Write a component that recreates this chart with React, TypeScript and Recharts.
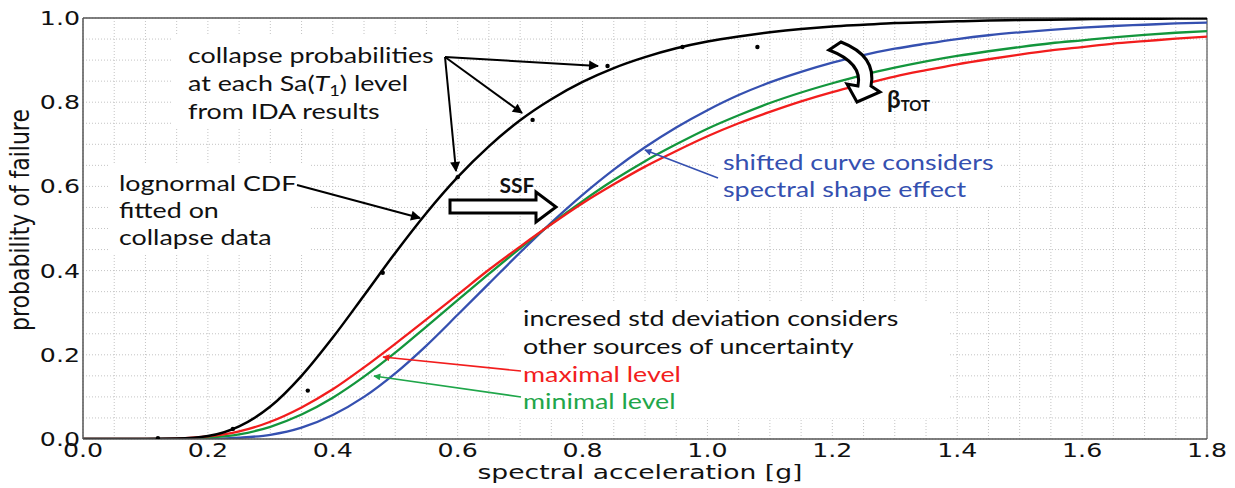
import React from "react";
import {
  ComposedChart,
  Line,
  Scatter,
  XAxis,
  YAxis,
  CartesianGrid,
  ReferenceLine,
} from "recharts";

// spectral acceleration Sa(T1) [g]
const sa = [
  0, 0.05, 0.1, 0.15, 0.2, 0.25, 0.3, 0.35, 0.4, 0.45, 0.5, 0.55, 0.6, 0.65,
  0.7, 0.75, 0.8, 0.85, 0.9, 0.95, 1.0, 1.05, 1.1, 1.15, 1.2, 1.25, 1.3, 1.35,
  1.4, 1.45, 1.5, 1.55, 1.6, 1.65, 1.7, 1.75, 1.8,
];

// lognormal CDF fitted on collapse data (black)
const lognormalFit = [
  0, 0, 0, 0.001, 0.007, 0.03, 0.077, 0.15, 0.241, 0.341, 0.442, 0.537, 0.622,
  0.695, 0.757, 0.807, 0.848, 0.881, 0.907, 0.928, 0.944, 0.956, 0.966, 0.974,
  0.98, 0.984, 0.988, 0.99, 0.992, 0.994, 0.995, 0.996, 0.997, 0.998, 0.998,
  0.999, 0.999,
];

// increased std deviation, maximal level (red)
const maximalLevel = [
  0, 0, 0, 0.001, 0.006, 0.018, 0.041, 0.075, 0.118, 0.17, 0.226, 0.284, 0.343,
  0.402, 0.457, 0.51, 0.56, 0.605, 0.647, 0.684, 0.719, 0.75, 0.777, 0.802,
  0.824, 0.843, 0.861, 0.876, 0.89, 0.902, 0.913, 0.923, 0.931, 0.939, 0.945,
  0.951, 0.956,
];

// increased std deviation, minimal level (green)
const minimalLevel = [
  0, 0, 0, 0, 0.003, 0.011, 0.029, 0.058, 0.098, 0.148, 0.205, 0.267, 0.33,
  0.392, 0.453, 0.511, 0.565, 0.615, 0.66, 0.7, 0.737, 0.769, 0.798, 0.823,
  0.845, 0.865, 0.882, 0.897, 0.91, 0.921, 0.931, 0.94, 0.947, 0.954, 0.96,
  0.965, 0.969,
];

// shifted curve, spectral shape effect (blue)
const shiftedCurve = [
  0, 0, 0, 0, 0, 0.003, 0.01, 0.027, 0.057, 0.1, 0.156, 0.222, 0.295, 0.369,
  0.443, 0.514, 0.58, 0.64, 0.693, 0.74, 0.781, 0.817, 0.847, 0.872, 0.894,
  0.912, 0.927, 0.939, 0.95, 0.959, 0.966, 0.972, 0.977, 0.981, 0.984, 0.987,
  0.989,
];

// collapse probabilities at each Sa(T1) level from IDA
const idaSa = [0.12, 0.24, 0.36, 0.48, 0.6, 0.72, 0.84, 0.96, 1.08];
const idaProb = [0.002, 0.024, 0.115, 0.395, 0.622, 0.758, 0.886, 0.931, 0.931];

const xTicks = [
  0, 0.05, 0.1, 0.15, 0.2, 0.25, 0.3, 0.35, 0.4, 0.45, 0.5, 0.55, 0.6, 0.65,
  0.7, 0.75, 0.8, 0.85, 0.9, 0.95, 1.0, 1.05, 1.1, 1.15, 1.2, 1.25, 1.3, 1.35,
  1.4, 1.45, 1.5, 1.55, 1.6, 1.65, 1.7, 1.75, 1.8,
];
const yTicks = [
  0, 0.05, 0.1, 0.15, 0.2, 0.25, 0.3, 0.35, 0.4, 0.45, 0.5, 0.55, 0.6, 0.65,
  0.7, 0.75, 0.8, 0.85, 0.9, 0.95, 1.0,
];

const curveData = sa.map((x, i) => ({
  x,
  black: lognormalFit[i],
  red: maximalLevel[i],
  green: minimalLevel[i],
  blue: shiftedCurve[i],
}));
const idaData = idaSa.map((x, i) => ({ x, y: idaProb[i] }));

const BLACK = "#000";
const RED = "#f21d1d";
const GREEN = "#13963c";
const GREEN_TEXT = "#1fa64a";
const BLUE = "#3550b0";
const AXIS_FONT = "'DejaVu Sans', sans-serif";
const NOTE_FONT = "Lato, 'Open Sans', sans-serif";

const isMajor = (v: number) => Math.abs(v * 5 - Math.round(v * 5)) < 1e-6;

function XTick(props: any) {
  const { x, y, payload } = props;
  if (!isMajor(payload.value)) return <g />;
  return (
    <text
      transform={`translate(${x},${y + 18}) scale(1.33,1)`}
      textAnchor="middle"
      fontSize={19}
      fontFamily={AXIS_FONT}
      fill="#111"
    >
      {payload.value.toFixed(1)}
    </text>
  );
}

function YTick(props: any) {
  const { x, y, payload } = props;
  if (!isMajor(payload.value)) return <g />;
  return (
    <text
      transform={`translate(${x - 3},${y + 7}) scale(1.33,1)`}
      textAnchor="end"
      fontSize={19}
      fontFamily={AXIS_FONT}
      fill="#111"
    >
      {payload.value.toFixed(1)}
    </text>
  );
}

function Dot(props: any) {
  const { cx, cy } = props;
  return <circle cx={cx} cy={cy} r={2.2} fill={BLACK} />;
}

// annotation text, a bit wider than the font draws it
function Note({ x, y, fill = "#111", children }: any) {
  return (
    <text
      transform={`translate(${x},${y}) scale(1.22,1)`}
      fontFamily={NOTE_FONT}
      fontSize={22}
      fill={fill}
    >
      {children}
    </text>
  );
}

function Notes() {
  return (
    <svg
      width={1235}
      height={488}
      style={{ position: "absolute", left: 0, top: 0, pointerEvents: "none" }}
    >
      <defs>
        {[
          ["k", BLACK],
          ["r", RED],
          ["g", GREEN_TEXT],
          ["b", BLUE],
        ].map(([id, c]) => (
          <marker
            key={id}
            id={`head-${id}`}
            viewBox="0 0 10 10"
            refX="9"
            refY="5"
            markerWidth="8"
            markerHeight="7"
            markerUnits="userSpaceOnUse"
            orient="auto"
          >
            <path d="M0,0 L10,5 L0,10 z" fill={c} />
          </marker>
        ))}
        <marker
          id="head-big"
          viewBox="0 0 10 10"
          refX="9"
          refY="5"
          markerWidth="13"
          markerHeight="10"
          markerUnits="userSpaceOnUse"
          orient="auto"
        >
          <path d="M0,0 L10,5 L0,10 z" fill={BLACK} />
        </marker>
      </defs>

      {/* white boxes behind the notes */}
      <rect x={173} y={34} width={285} height={94} fill="#fff" />
      <rect x={110} y={163} width={200} height={90} fill="#fff" />
      <rect x={715} y={150} width={285} height={55} fill="#fff" />
      <rect x={506} y={302} width={442} height={116} fill="#fff" />

      {/* axis titles */}
      <text
        transform="translate(640,479) scale(1.33,1)"
        textAnchor="middle"
        fontSize={20}
        fontFamily={AXIS_FONT}
        fill="#111"
      >
        spectral acceleration [g]
      </text>
      <text
        transform="translate(29,220) rotate(-90) scale(1,1.2)"
        textAnchor="middle"
        fontSize={22}
        fontFamily={AXIS_FONT}
        fill="#111"
      >
        probability of failure
      </text>

      {/* IDA collapse probabilities */}
      <Note x={188} y={63}>collapse probabilities</Note>
      <Note x={188} y={91}>
        at each Sa(<tspan fontStyle="italic">T</tspan>
        <tspan fontSize={15} dy={5}>1</tspan>
        <tspan dy={-5}>) level</tspan>
      </Note>
      <Note x={188} y={119}>from IDA results</Note>
      <g stroke={BLACK} strokeWidth={2}>
        <line x1={445} y1={57} x2={598} y2={66} markerEnd="url(#head-big)" />
        <line x1={445} y1={57} x2={522} y2={113} markerEnd="url(#head-big)" />
        <line x1={445} y1={57} x2={456} y2={171} markerEnd="url(#head-big)" />
      </g>

      {/* lognormal fit */}
      <Note x={119} y={191}>lognormal CDF</Note>
      <Note x={119} y={218}>fitted on</Note>
      <Note x={119} y={245}>collapse data</Note>
      <line
        x1={297}
        y1={185}
        x2={420}
        y2={218}
        stroke={BLACK}
        strokeWidth={2}
        markerEnd="url(#head-big)"
      />

      {/* SSF shift */}
      <text
        x={517}
        y={193}
        textAnchor="middle"
        fontFamily={NOTE_FONT}
        fontWeight="bold"
        fontSize={21}
        fill="#111"
      >
        SSF
      </text>
      <path
        d="M450,200 L536,200 L536,192 L556,207 L536,222 L536,213 L450,213 Z"
        fill="#fff"
        stroke={BLACK}
        strokeWidth={3}
        strokeLinejoin="miter"
      />

      {/* beta TOT */}
      <path
        d="M829,50 L841,42 Q877,56 871,86 L880,92 L857,102 L847,84 L858,86 Q863,63 829,50 Z"
        fill="#fff"
        stroke={BLACK}
        strokeWidth={3}
      />
      <text x={887} y={108} fontFamily={NOTE_FONT} fontWeight="bold" fill="#111">
        <tspan fontSize={24}>β</tspan>
        <tspan fontSize={15} dy={3}>TOT</tspan>
      </text>

      {/* shifted curve */}
      <Note x={723} y={170} fill={BLUE}>shifted curve considers</Note>
      <Note x={723} y={197} fill={BLUE}>spectral shape effect</Note>
      <line
        x1={718}
        y1={178}
        x2={645}
        y2={150}
        stroke={BLUE}
        strokeWidth={1.6}
        markerEnd="url(#head-b)"
      />

      {/* increased std deviation */}
      <Note x={523} y={326}>incresed std deviation considers</Note>
      <Note x={523} y={354}>other sources of uncertainty</Note>
      <Note x={523} y={382} fill={RED}>maximal level</Note>
      <Note x={523} y={409} fill={GREEN_TEXT}>minimal level</Note>
      <line
        x1={521}
        y1={371}
        x2={383}
        y2={357}
        stroke={RED}
        strokeWidth={1.6}
        markerEnd="url(#head-r)"
      />
      <line
        x1={521}
        y1={397}
        x2={374}
        y2={376}
        stroke={GREEN_TEXT}
        strokeWidth={1.6}
        markerEnd="url(#head-g)"
      />
    </svg>
  );
}

export default function App() {
  return (
    <div
      style={{
        position: "fixed",
        left: 0,
        top: 0,
        width: 1235,
        height: 488,
        background: "#fff",
      }}
    >
      <ComposedChart
        width={1235}
        height={488}
        data={curveData}
        margin={{ top: 18, right: 28, bottom: 0, left: 0 }}
      >
        <CartesianGrid stroke="#c4c4c4" strokeDasharray="1 2" />
        <XAxis
          type="number"
          dataKey="x"
          domain={[0, 1.8]}
          ticks={xTicks}
          interval={0}
          height={49}
          tickLine={false}
          tickSize={0}
          tickMargin={0}
          axisLine={{ stroke: "#555", strokeWidth: 1.5 }}
          tick={XTick}
          allowDataOverflow
        />
        <YAxis
          type="number"
          domain={[0, 1]}
          ticks={yTicks}
          interval={0}
          width={83}
          tickLine={false}
          tickSize={0}
          tickMargin={0}
          axisLine={{ stroke: "#555", strokeWidth: 1.5 }}
          tick={YTick}
          allowDataOverflow
        />
        <ReferenceLine y={1} stroke="#555" strokeWidth={1.5} />
        <ReferenceLine x={1.8} stroke="#777" strokeWidth={1.5} />
        <Line
          type="monotone"
          dataKey="blue"
          stroke={BLUE}
          strokeWidth={2.3}
          dot={false}
          isAnimationActive={false}
        />
        <Line
          type="monotone"
          dataKey="green"
          stroke={GREEN}
          strokeWidth={2.3}
          dot={false}
          isAnimationActive={false}
        />
        <Line
          type="monotone"
          dataKey="red"
          stroke={RED}
          strokeWidth={2.3}
          dot={false}
          isAnimationActive={false}
        />
        <Line
          type="monotone"
          dataKey="black"
          stroke={BLACK}
          strokeWidth={2.5}
          dot={false}
          isAnimationActive={false}
        />
        <Scatter
          data={idaData}
          dataKey="y"
          shape={Dot}
          isAnimationActive={false}
        />
      </ComposedChart>
      <Notes />
    </div>
  );
}
